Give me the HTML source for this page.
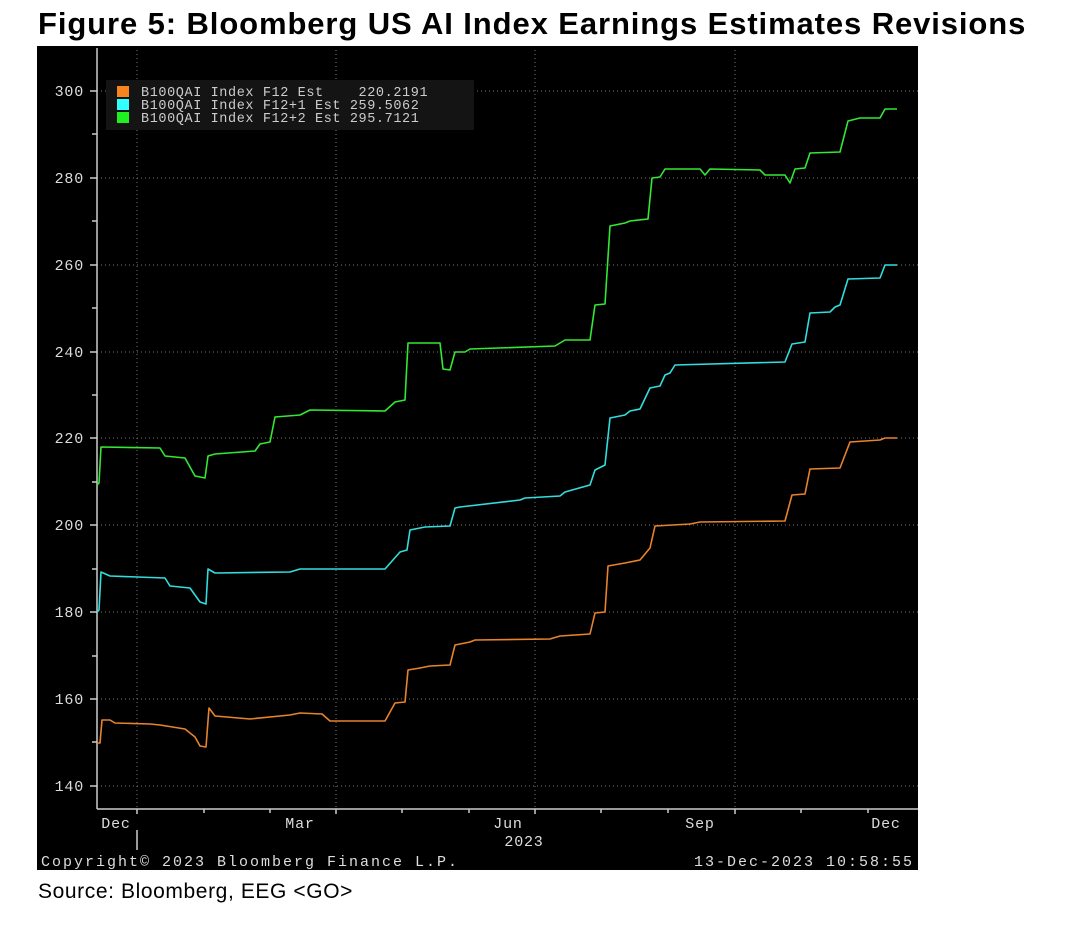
<!DOCTYPE html>
<html><head><meta charset="utf-8"><style>
body{margin:0;background:#fff;width:1083px;height:926px;overflow:hidden;font-family:"Liberation Sans",sans-serif}
.t{position:absolute;left:38px;top:6px;font-size:31px;font-weight:bold;color:#000;letter-spacing:0.9px;white-space:nowrap}
.s{position:absolute;left:38px;top:880px;font-size:21px;color:#000;letter-spacing:0.6px}
</style></head><body>
<div class="t">Figure 5: Bloomberg US AI Index Earnings Estimates Revisions</div>
<svg style="position:absolute;left:0;top:0" width="1083" height="926">
<rect x="37" y="46" width="881" height="824" fill="#000"/>
<g stroke="#777" stroke-dasharray="1,3" stroke-width="1">
<line x1="97" x2="918" y1="91" y2="91"/><line x1="97" x2="918" y1="178" y2="178"/>
<line x1="97" x2="918" y1="265" y2="265"/><line x1="97" x2="918" y1="352" y2="352"/>
<line x1="97" x2="918" y1="438" y2="438"/><line x1="97" x2="918" y1="525" y2="525"/>
<line x1="97" x2="918" y1="612" y2="612"/><line x1="97" x2="918" y1="699" y2="699"/>
<line x1="97" x2="918" y1="786" y2="786"/>
<line x1="137" x2="137" y1="50" y2="808"/><line x1="336" x2="336" y1="50" y2="808"/>
<line x1="535" x2="535" y1="50" y2="808"/><line x1="735" x2="735" y1="50" y2="808"/>
</g>
<g stroke="#ccc" stroke-width="1.5" fill="none">
<line x1="97" y1="48" x2="97" y2="809"/><line x1="97" y1="809" x2="918" y2="809"/>
<path d="M90 91H97M90 178H97M90 265H97M90 352H97M90 438H97M90 525H97M90 612H97M90 699H97M90 786H97"/>
<path d="M92 134H97M92 221H97M92 308H97M92 395H97M92 482H97M92 569H97M92 656H97M92 742H97"/>
<path d="M137 809V814M204 809V813M270 809V813M336 809V814M402 809V813M469 809V813M535 809V814M601 809V813M668 809V813M735 809V814M801 809V813M868 809V813M137 830V850"/>
</g>
<g fill="#ddd" font-family="Liberation Mono,monospace" font-size="15" letter-spacing="0.8">
<text x="84" y="96" text-anchor="end">300</text><text x="84" y="183" text-anchor="end">280</text>
<text x="84" y="270" text-anchor="end">260</text><text x="84" y="357" text-anchor="end">240</text>
<text x="84" y="443" text-anchor="end">220</text><text x="84" y="530" text-anchor="end">200</text>
<text x="84" y="617" text-anchor="end">180</text><text x="84" y="704" text-anchor="end">160</text>
<text x="84" y="791" text-anchor="end">140</text>
<text x="116" y="828" text-anchor="middle">Dec</text><text x="300" y="828" text-anchor="middle">Mar</text>
<text x="508" y="828" text-anchor="middle">Jun</text><text x="700" y="828" text-anchor="middle">Sep</text>
<text x="886" y="828" text-anchor="middle">Dec</text><text x="524" y="846" text-anchor="middle">2023</text>
<text x="41" y="866" letter-spacing="2">Copyright© 2023 Bloomberg Finance L.P.</text>
<text x="914" y="866" text-anchor="end" letter-spacing="2">13-Dec-2023 10:58:55</text>
</g>
<rect x="106" y="80" width="368" height="50" fill="#141414"/>
<rect x="117" y="86" width="12" height="11" fill="#f7841e"/>
<rect x="117" y="99" width="12" height="11" fill="#33ffff"/>
<rect x="117" y="112" width="12" height="11" fill="#1ff01f"/>
<g fill="#ccc" font-family="Liberation Mono,monospace" font-size="13.5" letter-spacing="0.6">
<text x="141" y="96" xml:space="preserve">B100QAI Index F12 Est    220.2191</text>
<text x="141" y="109">B100QAI Index F12+1 Est 259.5062</text>
<text x="141" y="122">B100QAI Index F12+2 Est 295.7121</text>
</g>
<g fill="none" stroke-width="1.6" stroke-linejoin="round">
<path stroke="#e8832c" d="M97 743L100 743L102 720L110 720L115 723L150 724L160 725L185 729L195 737L200 746L206 747L209 708L215 716L250 719L290 715L300 713L322 714L330 721L385 721L395 703L405 702L408 670L420 668L430 666L450 665L455 645L470 642L475 640L550 639L560 636L590 634L595 613L605 612L608 566L625 563L640 560L650 548L655 526L690 524L700 522L785 521L792 495L805 494L810 469L840 468L850 442L880 440L885 438L897 438"/>
<path stroke="#33dddd" d="M97 612L99 610L101 572L110 576L165 578L170 586L190 588L200 602L206 604L208 569L215 573L290 572L300 569L385 569L400 552L407 550L410 530L425 527L450 526L455 508L460 507L520 500L525 498L560 496L565 492L590 485L595 470L605 465L610 418L625 415L630 411L640 409L650 388L660 386L665 375L670 373L675 365L785 362L792 344L805 342L810 313L830 312L835 307L840 305L848 279L880 278L885 265L897 265"/>
<path stroke="#33e833" d="M97 485L99 483L101 447L160 448L165 456L185 458L195 476L205 478L208 456L215 454L255 451L260 444L270 442L275 417L300 415L310 410L385 411L395 402L405 400L408 343L440 343L443 369L450 370L455 352L465 352L470 349L555 346L565 340L590 340L595 305L605 304L610 226L625 223L630 221L648 219L652 178L660 177L665 169L700 169L705 175L710 169L760 170L765 175L785 175L790 183L795 169L805 168L810 153L840 152L848 121L860 118L880 118L885 109L897 109"/>
</g>
</svg>
<div class="s">Source: Bloomberg, EEG &lt;GO&gt;</div>
</body></html>
